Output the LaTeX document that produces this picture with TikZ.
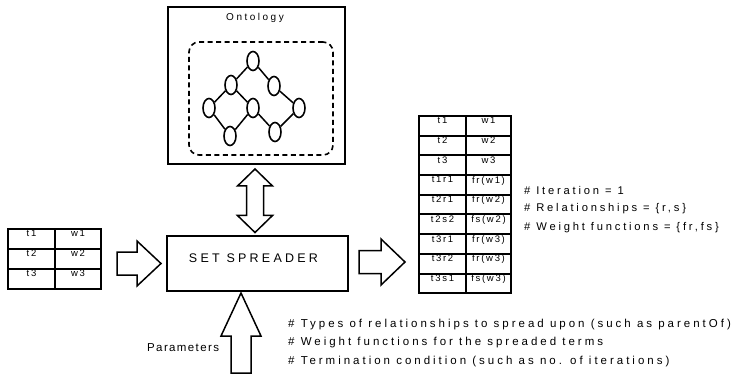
\documentclass[tikz,border=0pt]{standalone}
\usepackage{fontspec}
\setmainfont{Liberation Sans}
\newfontfamily\trackfont[LetterSpace=25]{Liberation Sans}
\newfontfamily\bottomfont[LetterSpace=26]{Liberation Sans}
\newfontfamily\paramfont[LetterSpace=12]{Liberation Sans}
\newfontfamily\notefont[LetterSpace=25]{Liberation Sans}
\newfontfamily\widefont[LetterSpace=26]{Liberation Sans}
\newfontfamily\smallfont[LetterSpace=18]{Liberation Sans}
\usetikzlibrary{calc,shapes.geometric}

% block arrow pointing right: from #1 to tip #2, shaft half-width #3, head half-width #4, head length #5
\newcommand\hblock[5]{\draw[blockarrow] let \p1=(#1),\p2=(#2) in
  (\x1,{\y1+#3}) -- ({\x2-#5},{\y1+#3}) -- ({\x2-#5},{\y1+#4}) -- (\x2,\y1)
  -- ({\x2-#5},{\y1-#4}) -- ({\x2-#5},{\y1-#3}) -- (\x1,{\y1-#3}) -- cycle;}
% block arrow pointing up: from #1 (bottom) to tip #2
\newcommand\upblock[5]{\draw[blockarrow] let \p1=(#1),\p2=(#2) in
  ({\x1-#3},\y1) -- ({\x1-#3},{\y2-#5}) -- ({\x1-#4},{\y2-#5}) -- (\x1,\y2)
  -- ({\x1+#4},{\y2-#5}) -- ({\x1+#3},{\y2-#5}) -- ({\x1+#3},\y1) -- cycle;}
% vertical double-headed block arrow between tip #1 (top) and tip #2 (bottom)
\newcommand\dblock[5]{\draw[blockarrow] let \p1=(#1),\p2=(#2) in
  (\x1,\y1) -- ({\x1+#4},{\y1-#5}) -- ({\x1+#3},{\y1-#5}) -- ({\x1+#3},{\y2+#5})
  -- ({\x1+#4},{\y2+#5}) -- (\x1,\y2) -- ({\x1-#4},{\y2+#5}) -- ({\x1-#3},{\y2+#5})
  -- ({\x1-#3},{\y1-#5}) -- ({\x1-#4},{\y1-#5}) -- cycle;}

\begin{document}
\begin{tikzpicture}[x=1pt,y=-1pt,
  box/.style={draw,line width=2pt,inner sep=0pt},
  blockarrow/.style={draw,line width=1.5pt,line join=miter,fill=white},
  cell/.style={draw,line width=2pt,inner sep=0pt,anchor=north west,minimum height=#1},
  cell/.default=20pt,
  ctext/.style={font=\smallfont\fontsize{9.5}{11}\selectfont},
  gnode/.style={draw,ellipse,line width=1.6pt,minimum width=12pt,minimum height=19pt,inner sep=0pt},
  gedge/.style={line width=1.5pt},
  note/.style={anchor=west,inner sep=0pt,font=\bottomfont\fontsize{11.5}{13}\selectfont},
  rnote/.style={anchor=west,inner sep=0pt,font=\notefont\fontsize{11.2}{13}\selectfont}]
\useasboundingbox (0,0) rectangle (736,374);

% ontology panel
\node[box,minimum width=177pt,minimum height=157pt] (ont) at (256.5,85.5) {};
\node[anchor=north,inner sep=0pt,font=\trackfont\fontsize{10}{12}\selectfont] (ontt) at (255,13) {Ontology};
\node[draw,line width=1.6pt,dash pattern=on 5pt off 3.5pt,rounded corners=10pt,
      minimum width=144pt,minimum height=113pt,inner sep=0pt] (onto) at (261,98.5) {};

% concept graph
\node[gnode] (g1) at (253,61) {};
\node[gnode] (g2) at (231,85) {};
\node[gnode] (g3) at (274,86) {};
\node[gnode] (g4) at (209,108) {};
\node[gnode] (g5) at (253,108) {};
\node[gnode] (g6) at (299,108) {};
\node[gnode] (g7) at (230,136) {};
\node[gnode] (g8) at (275,132) {};
\foreach \a/\b in {g1/g2,g1/g3,g2/g4,g2/g5,g3/g6,g4/g7,g5/g7,g5/g8,g8/g6}
  \draw[gedge] (\a) -- (\b);

% spreader
\node[box,minimum width=181pt,minimum height=55pt] (sp) at (257.5,263.5) {};
\node[inner sep=0pt,font=\widefont\fontsize{12.5}{14}\selectfont] (spt) at ($(sp.center)+(-4,-5)$) {SET SPREADER};

% input term set
\foreach \i/\t/\w [count=\k from 0] in {1/t1/w1,2/t2/w2,3/t3/w3}{
  \node[cell=20pt,minimum width=47pt,label={[ctext,anchor=north,inner sep=0pt,yshift=-2pt]north:\t}] (l\i a) at (7,228+20*\k) {};
  \node[cell=20pt,minimum width=46pt,label={[ctext,anchor=north,inner sep=0pt,yshift=-2pt]north:\w}] (l\i b) at (54,228+20*\k) {};
}

% spread term set
\foreach \i/\t/\w [count=\k from 0] in {1/t1/w1,2/t2/w2,3/t3/w3,4/t1r1/fr(w1),5/t2r1/fr(w2),6/t2s2/fs(w2),7/t3r1/fr(w3),8/t3r2/fr(w3),9/t3s1/fs(w3)}{
  \node[cell=19.7pt,minimum width=47pt,label={[ctext,anchor=north,inner sep=0pt,yshift=-2pt]north:\t}] (r\i a) at (418,115+19.7*\k) {};
  \node[cell=19.7pt,minimum width=45pt,label={[ctext,anchor=north,inner sep=0pt,yshift=-2pt]north:\w}] (r\i b) at (465,115+19.7*\k) {};
}

% block arrows
\coordinate (la1) at ($(sp.west -| l2b.east)+(15,0)$);
\coordinate (la2) at ($(sp.west)+(-5,0)$);
\hblock{la1}{la2}{11.5pt}{22.5pt}{24pt}
\coordinate (ra1) at ($(sp.east)+(10,-1.5)$);
\coordinate (ra2) at ($(sp.east -| r1a.west)+(-13,-1.5)$);
\hblock{ra1}{ra2}{11.5pt}{23pt}{24pt}
\coordinate (da1) at ($(ont.south)+(-1.5,4)$);
\coordinate (da2) at ($(ont.south |- sp.north)+(-1.5,-2.5)$);
\dblock{da1}{da2}{8.5pt}{17.5pt}{17pt}
\coordinate (pa2) at ($(sp.south)+(-16.5,1)$);
\coordinate (pa1) at (pa2 |- 0,373);
\upblock{pa1}{pa2}{10pt}{20pt}{43pt}

% annotations
\node[rnote] (it) at (524,190) {\# Iteration = 1};
\node[rnote] (rel) at (524,209) {\# Relationships = \{r,s\}};
\node[rnote] (wf) at (524,228) {\# Weight functions = \{fr,fs\}};
\node[anchor=west,inner sep=0pt,font=\paramfont\fontsize{11.5}{13}\selectfont] (par) at (147,348) {Parameters};
\node[note] (p1) at (288,325) {\# Types of relationships to spread upon (such as parentOf)};
\node[note] (p2) at (288,343) {\# Weight functions for the spreaded terms};
\node[note] (p3) at (288,362) {\# Termination condition (such as no. of iterations)};
\end{tikzpicture}
\end{document}
